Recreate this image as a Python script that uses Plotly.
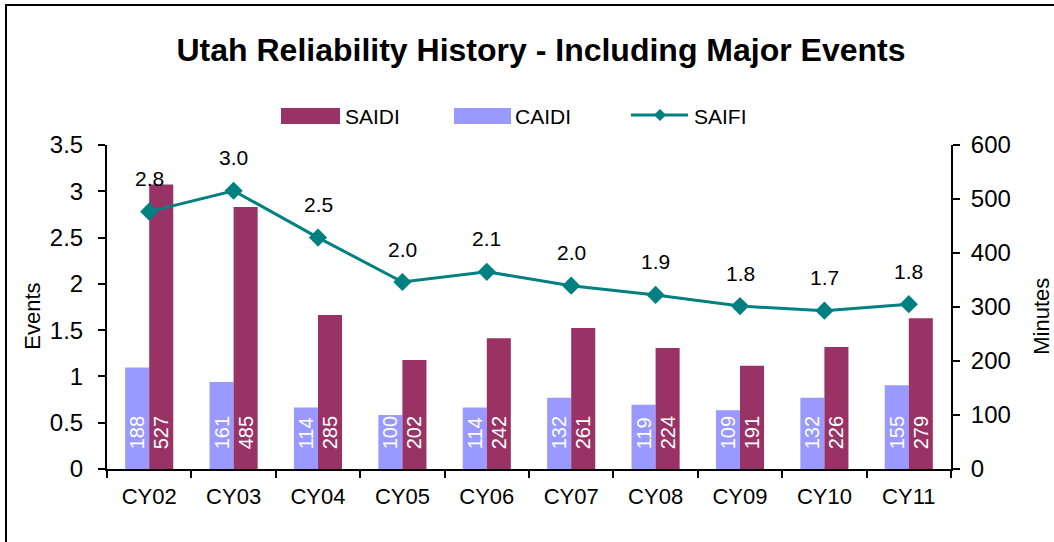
import plotly.graph_objects as go

# ---- data ----
categories = ["CY02", "CY03", "CY04", "CY05", "CY06", "CY07", "CY08", "CY09", "CY10", "CY11"]
saidi = [527, 485, 285, 202, 242, 261, 224, 191, 226, 279]
caidi = [188, 161, 114, 100, 114, 132, 119, 109, 132, 155]
saifi = [2.78, 3.006, 2.50, 2.02, 2.13, 1.98, 1.88, 1.76, 1.71, 1.78]
left_ticks = [0, 0.5, 1, 1.5, 2, 2.5, 3, 3.5]
right_ticks = [0, 100, 200, 300, 400, 500, 600]

# ---- styles ----
SAIDI_C = "#993366"
CAIDI_C = "#9999FF"
SAIFI_C = "#008080"
FONT = "Liberation Sans, Arial, sans-serif"

W, H = 1054, 542
L, R, T, B = 107, 951, 145, 469  # plot area in pixels


def px(x):
    return (x - L) / (R - L)


def py(y):
    return (B - y) / (B - T)


pad = "\u00a0\u00a0\u00a0"
n = len(categories)
boundaries = [i - 0.5 for i in range(n + 1)]

fig = go.Figure()
fig.add_trace(go.Bar(
    x=categories, y=caidi, name="CAIDI", marker=dict(color=CAIDI_C, line=dict(width=0)),
    text=[pad + str(v) for v in caidi], textposition="inside", insidetextanchor="start",
    textangle=-90, textfont=dict(color="white", size=20, family=FONT),
    yaxis="y", showlegend=False, cliponaxis=False,
))
fig.add_trace(go.Bar(
    x=categories, y=saidi, name="SAIDI", marker=dict(color=SAIDI_C, line=dict(width=0)),
    text=[pad + str(v) for v in saidi], textposition="inside", insidetextanchor="start",
    textangle=-90, textfont=dict(color="white", size=20, family=FONT),
    yaxis="y", showlegend=False, cliponaxis=False,
))
fig.add_trace(go.Scatter(
    x=categories, y=saifi, name="SAIFI", mode="lines+markers",
    line=dict(color=SAIFI_C, width=3), marker=dict(symbol="diamond", size=14, color=SAIFI_C),
    yaxis="y2", showlegend=False, cliponaxis=False,
))

annotations = []
for c, v in zip(categories, saifi):
    annotations.append(dict(x=c, y=v, xref="x", yref="y2", text=f"{v:.1f}", showarrow=False,
                            xanchor="center", yanchor="middle",
                            yshift=33, font=dict(size=21, color="black", family=FONT)))

# axis titles
annotations.append(dict(x=px(33), y=0.47, xref="paper", yref="paper", text="Events", textangle=-90,
                        xanchor="center", yanchor="middle",
                        showarrow=False, font=dict(size=22, color="black", family=FONT)))
annotations.append(dict(x=px(1042), y=0.47, xref="paper", yref="paper", text="Minutes", textangle=-90,
                        xanchor="center", yanchor="middle",
                        showarrow=False, font=dict(size=22, color="black", family=FONT)))

# custom legend
shapes = []
leg_y0, leg_y1 = 108, 124
leg_font = dict(size=21, color="black", family=FONT)
shapes.append(dict(type="rect", xref="paper", yref="paper", x0=px(281), x1=px(340), y0=py(leg_y1), y1=py(leg_y0),
                   fillcolor=SAIDI_C, line=dict(width=0)))
annotations.append(dict(x=px(343), y=py(116), xref="paper", yref="paper", text="SAIDI", xanchor="left",
                        yanchor="middle", showarrow=False, font=leg_font))
shapes.append(dict(type="rect", xref="paper", yref="paper", x0=px(454), x1=px(511), y0=py(leg_y1), y1=py(leg_y0),
                   fillcolor=CAIDI_C, line=dict(width=0)))
annotations.append(dict(x=px(513), y=py(116), xref="paper", yref="paper", text="CAIDI", xanchor="left",
                        yanchor="middle", showarrow=False, font=leg_font))
shapes.append(dict(type="line", xref="paper", yref="paper", x0=px(631), x1=px(688), y0=py(115), y1=py(115),
                   line=dict(color=SAIFI_C, width=3)))
d = 6
shapes.append(dict(type="path", xref="paper", yref="paper",
                   path=f"M {px(660)},{py(115 - d)} L {px(660 + d)},{py(115)} L {px(660)},{py(115 + d)} L {px(660 - d)},{py(115)} Z",
                   fillcolor=SAIFI_C, line=dict(width=0)))
annotations.append(dict(x=px(692), y=py(116), xref="paper", yref="paper", text="SAIFI", xanchor="left",
                        yanchor="middle", showarrow=False, font=leg_font))

# outer frame
shapes.append(dict(type="rect", xref="paper", yref="paper", x0=px(6), x1=px(1070), y0=py(560), y1=py(5),
                   line=dict(color="black", width=2), fillcolor="rgba(0,0,0,0)", layer="below"))

tick_common = dict(ticklen=7, tickwidth=2, tickcolor="black", showgrid=False, zeroline=False, automargin=False)

fig.update_layout(
    width=W, height=H,
    margin=dict(l=L, r=W - R, t=T, b=H - B, pad=0, autoexpand=False),
    paper_bgcolor="white", plot_bgcolor="white",
    font=dict(family=FONT, color="black"),
    title=dict(text="<b>Utah Reliability History - Including Major Events</b>", x=px(541), xanchor="center",
               y=1 - 50 / H, yanchor="middle", xref="paper",
               font=dict(size=32, color="black", family=FONT)),
    barmode="group", bargap=0.43, bargroupgap=0,
    uniformtext=dict(minsize=20, mode="show"),
    xaxis=dict(type="category", range=[-0.5, n - 0.5], showline=True, linecolor="black", linewidth=2,
               ticks="outside", tickson="boundaries", tickfont=dict(size=22, family=FONT),
               ticklabelstandoff=7, **tick_common),
    xaxis2=dict(overlaying="x", anchor="y", side="bottom", range=[-0.5, n - 0.5], tickvals=boundaries,
                ticks="inside", showticklabels=False, showline=False, **tick_common),
    yaxis=dict(side="right", range=[0, 600], tickvals=right_ticks, showline=True, linecolor="black",
               linewidth=2, ticks="outside", tickfont=dict(size=24, family=FONT),
               ticklabelstandoff=6, **tick_common),
    yaxis2=dict(side="left", overlaying="y", range=[0, 3.5], tickvals=left_ticks, showline=True,
                linecolor="black", linewidth=2, ticks="outside", tickfont=dict(size=24, family=FONT),
                ticklabelstandoff=10, **tick_common),
    yaxis3=dict(side="left", overlaying="y", anchor="x", range=[0, 3.5], tickvals=left_ticks,
                ticks="inside", showticklabels=False, showline=False, **tick_common),
    yaxis4=dict(side="right", overlaying="y", anchor="x", range=[0, 600], tickvals=right_ticks,
                ticks="inside", showticklabels=False, showline=False, **tick_common),
    annotations=annotations, shapes=shapes,
)

fig.write_html("out.html", config={"displayModeBar": False},
               post_script="document.body.style.margin='0px';")
